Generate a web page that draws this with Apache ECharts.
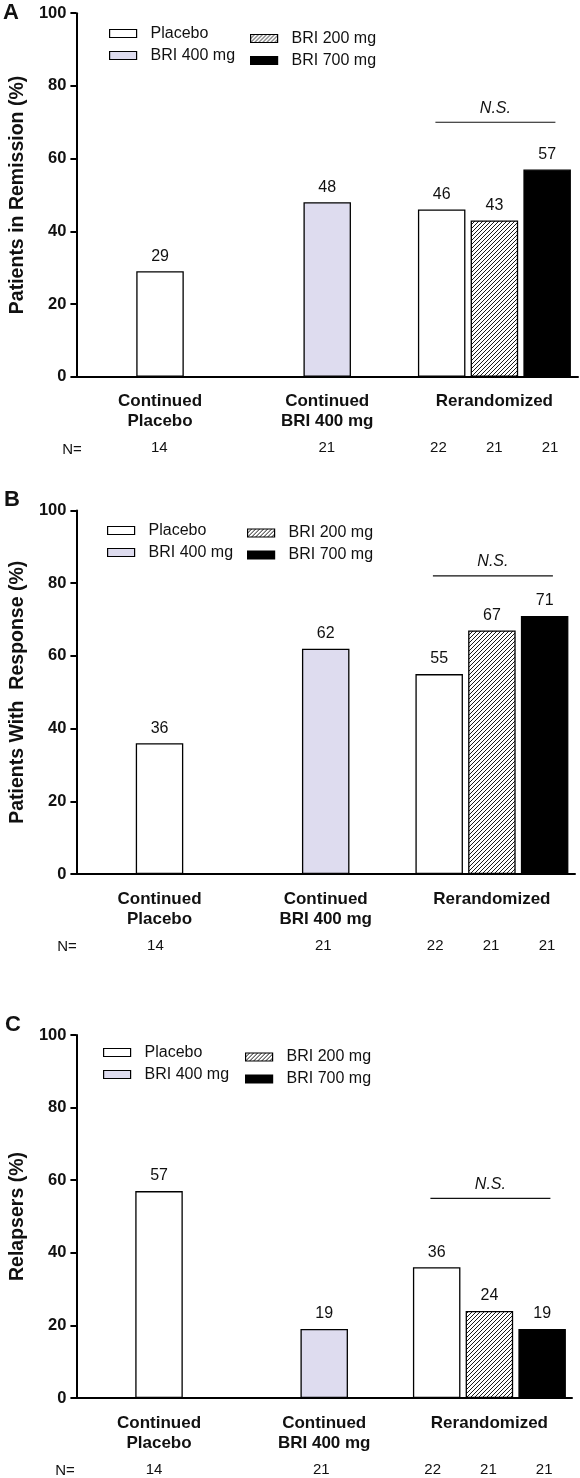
<!DOCTYPE html>
<html><head><meta charset="utf-8">
<script src="https://cdn.jsdelivr.net/npm/echarts@6/dist/echarts.min.js"></script>
<style>html,body{margin:0;padding:0;background:#fff}#c{width:580px;height:1478px}</style>
</head><body><div id="c"></div>
<script>
// ---------- data ----------
const categories = ['Continued\nPlacebo', 'Continued\nBRI 400 mg', 'Rerandomized'];
const seriesNames = ['Placebo', 'BRI 400 mg', 'BRI 200 mg', 'BRI 700 mg'];
const yTicks = [0, 20, 40, 60, 80, 100];
const panelLetters = ['A', 'B', 'C'];
const yTitles = ['Patients in Remission (%)', 'Patients With  Response (%)', 'Relapsers (%)'];
const continuedPlacebo = [29, 36, 57];
const continuedBRI400 = [48, 62, 19];
const rerandPlacebo = [46, 55, 36];
const rerandBRI200 = [43, 67, 24];
const rerandBRI700 = [57, 71, 19];
const nContinuedPlacebo = [14, 14, 14];
const nContinuedBRI400 = [21, 21, 21];
const nRerandPlacebo = [22, 22, 22];
const nRerandBRI200 = [21, 21, 21];
const nRerandBRI700 = [21, 21, 21];
const nsLevel = [70, 82, 55];   // height of the "N.S." bracket, in axis units

// ---------- layout ----------
const FONT = "'Liberation Sans', Arial, Helvetica, sans-serif";
const panels = [
  {left: 75.5, right: 2, top: 13.2, height: 363.5, leg1: {left: 109, top: 24.5}, leg2: {left: 250, top: 29.5}, letter: [10, 13], nEq: 72},
  {left: 71.5, right: 5, top: 510.5, height: 363.5, leg1: {left: 107, top: 521.5}, leg2: {left: 247, top: 524}, letter: [11, 500], nEq: 67},
  {left: 70.5, right: 8, top: 1035, height: 363, leg1: {left: 103, top: 1043.5}, leg2: {left: 245, top: 1048}, letter: [12, 1025], nEq: 65}
];

function hatchCanvas() {
  const c = document.createElement('canvas');
  c.width = 4; c.height = 4;
  const g = c.getContext('2d');
  g.fillStyle = '#fff'; g.fillRect(0, 0, 4, 4);
  g.strokeStyle = '#1a1a1a'; g.lineWidth = 1;
  g.beginPath();
  g.moveTo(0, 4); g.lineTo(4, 0);
  g.moveTo(-1, 1); g.lineTo(1, -1);
  g.moveTo(3, 5); g.lineTo(5, 3);
  g.stroke();
  return c;
}
const hatch = {image: hatchCanvas(), repeat: 'repeat'};
const fills = {'Placebo': '#ffffff', 'BRI 400 mg': '#dedcef', 'BRI 200 mg': hatch, 'BRI 700 mg': '#000000'};

const grid = [], xAxis = [], yAxis = [], series = [], legend = [], graphic = [];
const labelStyle = {show: true, position: 'top', distance: 7, fontSize: 16, color: '#111', fontFamily: FONT};

panels.forEach((P, p) => {
  grid.push({left: P.left, right: P.right, top: P.top, height: P.height, containLabel: false});
  const axisY = P.top + P.height;
  grid.push({left: P.left, right: P.right, top: axisY + 63, height: 1, containLabel: false});

  const gMain = 2 * p, gN = 2 * p + 1;
  const xMain = xAxis.length;
  xAxis.push({
    type: 'category', gridIndex: gMain, data: categories, position: 'bottom',
    axisLine: {lineStyle: {color: '#000', width: 2}},
    axisTick: {alignWithLabel: true, length: 6, lineStyle: {color: '#000', width: 2}},
    axisLabel: {fontFamily: FONT, fontWeight: 'bold', fontSize: 17, color: '#111', lineHeight: 20, margin: 15, interval: 0}
  });
  const xGroup = xAxis.length;
  xAxis.push({type: 'category', gridIndex: gMain, data: categories, position: 'top', show: false});
  const nLabels = ['', nContinuedPlacebo[p], '', '', nContinuedBRI400[p], '', nRerandPlacebo[p], nRerandBRI200[p], nRerandBRI700[p]].map(String);
  xAxis.push({
    type: 'category', gridIndex: gN, data: nLabels, position: 'bottom',
    axisLine: {show: false}, axisTick: {show: false},
    axisLabel: {fontFamily: FONT, fontSize: 15, color: '#111', margin: 0, interval: 0}
  });

  const yMain = yAxis.length;
  yAxis.push({
    type: 'value', gridIndex: gMain, min: yTicks[0], max: yTicks[yTicks.length - 1], interval: yTicks[1] - yTicks[0],
    name: yTitles[p], nameLocation: 'middle', nameGap: 46, nameRotate: 90,
    nameTextStyle: {fontFamily: FONT, fontWeight: 'bold', fontSize: 19.5, color: '#111'},
    axisLine: {show: true, lineStyle: {color: '#000', width: 2}},
    axisTick: {show: true, length: 6, lineStyle: {color: '#000', width: 2}},
    axisLabel: {fontFamily: FONT, fontWeight: 'bold', fontSize: 16.5, color: '#111', margin: 10},
    splitLine: {show: false}
  });
  yAxis.push({type: 'value', gridIndex: gN, show: false});
  series.push({type: 'scatter', xAxisIndex: xMain + 2, yAxisIndex: yMain + 1, data: [], silent: true});

  const mk = (name, data, xi, extra) => Object.assign({
    type: 'bar', name: name, data: data, xAxisIndex: xi, yAxisIndex: yMain,
    barWidth: 47.5,
    itemStyle: {color: fills[name], borderColor: '#000', borderWidth: 1.3},
    label: labelStyle, silent: true, animation: false
  }, extra || {});
  series.push(mk('Placebo', [continuedPlacebo[p], '-', '-'], xMain));
  series.push(mk('BRI 400 mg', ['-', continuedBRI400[p], '-'], xMain, {barGap: '-100%'}));
  series.push(mk('Placebo', ['-', '-', rerandPlacebo[p]], xGroup));
  series.push(mk('BRI 200 mg', ['-', '-', rerandBRI200[p]], xGroup));
  series.push(mk('BRI 700 mg', ['-', '-', rerandBRI700[p]], xGroup, {barGap: '11%'}));

  const legBase = {
    orient: 'vertical', icon: 'rect', itemWidth: 27, itemHeight: 8, itemGap: 4, padding: 0,
    selectedMode: false,
    itemStyle: {borderColor: '#000', borderWidth: 1.2},
    textStyle: {fontFamily: FONT, fontSize: 16, color: '#111', lineHeight: 18, padding: [0, 0, 0, 9]}
  };
  legend.push(Object.assign({}, legBase, {left: P.leg1.left, top: P.leg1.top, data: [seriesNames[0], seriesNames[1]]}));
  legend.push(Object.assign({}, legBase, {left: P.leg2.left, top: P.leg2.top, data: [seriesNames[2], seriesNames[3]]}));

  graphic.push({type: 'text', left: P.letter[0] - 7, top: P.letter[1] - 11,
    style: {text: panelLetters[p], font: 'bold 22px ' + FONT, fill: '#111'}});
  graphic.push({type: 'text', x: P.nEq, y: axisY + 73,
    style: {text: 'N=', font: '15px ' + FONT, fill: '#111', align: 'center', verticalAlign: 'middle'}});
});

const chart = echarts.init(document.getElementById('c'), null, {renderer: 'canvas'});
chart.setOption({backgroundColor: '#fff', animation: false, grid, xAxis, yAxis, series, legend, graphic});

// N.S. brackets over the rerandomized group, placed through the axes
const ns = [];
panels.forEach((P, p) => {
  const cx = chart.convertToPixel({xAxisIndex: 3 * p + 1}, categories[2]);
  const y = chart.convertToPixel({yAxisIndex: 2 * p}, nsLevel[p]);
  ns.push({type: 'line', shape: {x1: cx - 59, y1: y, x2: cx + 61, y2: y}, style: {stroke: '#111', lineWidth: 1.2}});
  ns.push({type: 'text', x: cx + 1, y: y - 14,
    style: {text: 'N.S.', font: 'italic 16px ' + FONT, fill: '#111', align: 'center', verticalAlign: 'middle'}});
});
chart.setOption({graphic: graphic.concat(ns)});
</script>
</body></html>
